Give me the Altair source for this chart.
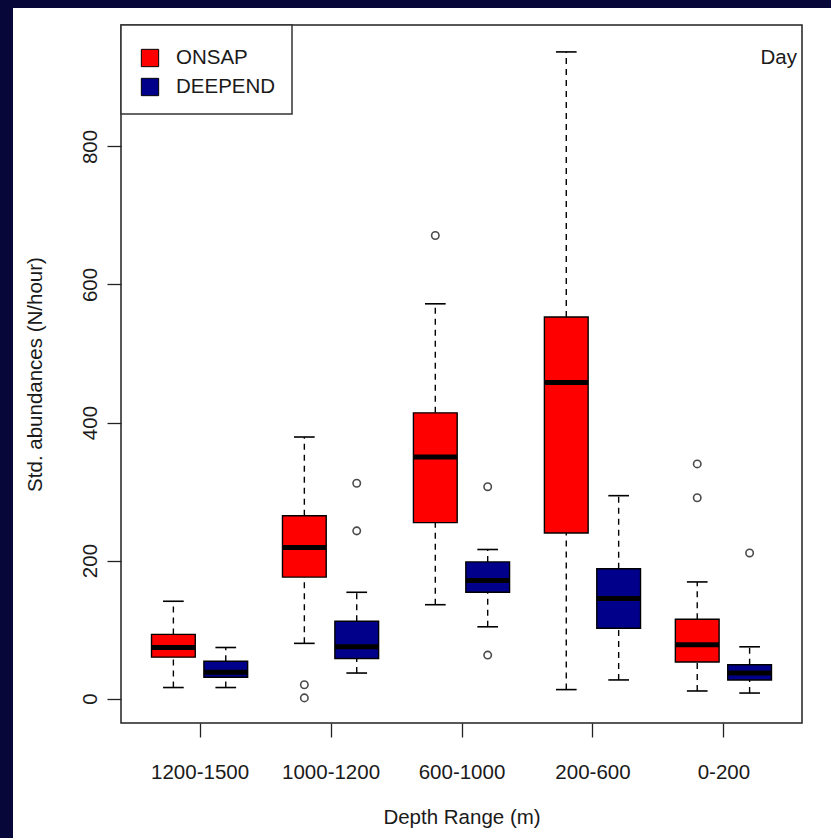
import json
import altair as alt
import pandas as pd

# ---------------- data ----------------
groups = ["1200-1500", "1000-1200", "600-1000", "200-600", "0-200"]
series = ["ONSAP", "DEEPEND"]
colors = ["#FF0000", "#00008B"]

onsap_lower = [16, 80, 136, 13, 11]
onsap_q1 = [60, 176, 255, 240, 53]
onsap_median = [74, 219, 350, 458, 78]
onsap_q3 = [93, 265, 414, 553, 115]
onsap_upper = [141, 379, 572, 937, 169]
onsap_outliers = [[], [20, 1], [671], [], [340, 291]]

deepend_lower = [16, 37, 104, 27, 8]
deepend_q1 = [31, 58, 154, 102, 27]
deepend_median = [38, 75, 171, 145, 37]
deepend_q3 = [54, 112, 198, 188, 49]
deepend_upper = [74, 154, 216, 294, 75]
deepend_outliers = [[], [312, 243], [307, 63], [], [211]]

y_ticks = [0, 200, 400, 600, 800]

# ---------------- tables ----------------
stat_rows, out_rows = [], []
for gi, g in enumerate(groups):
    for s, lo, q1, me, q3, up, outs in [
        ("ONSAP", onsap_lower, onsap_q1, onsap_median, onsap_q3, onsap_upper, onsap_outliers),
        ("DEEPEND", deepend_lower, deepend_q1, deepend_median, deepend_q3, deepend_upper, deepend_outliers),
    ]:
        stat_rows.append(dict(group=g, gi=gi + 1, series=s, lower=lo[gi], q1=q1[gi],
                              median=me[gi], q3=q3[gi], upper=up[gi]))
        for v in outs[gi]:
            out_rows.append(dict(group=g, gi=gi + 1, series=s, value=v))
stats = pd.DataFrame(stat_rows)
outl = pd.DataFrame(out_rows)

FONT = "Liberation Sans"
FS = 20.5
TXT = "#1a1a1a"
W, H = 681, 698

xs = alt.Scale(domain=[0.4, 5.6], nice=False, zero=False)
ys = alt.Scale(domain=[-35.4, 976], nice=False, zero=False)
cs = alt.Scale(domain=series, range=colors)

x_axis = alt.Axis(values=[1, 2, 3, 4, 5],
                  labelExpr=f"{json.dumps(groups)}[datum.value - 1]",
                  domain=False, grid=False, tickSize=14, tickColor="#222", tickWidth=1.3,
                  labelFont=FONT, labelFontSize=FS, labelColor=TXT,
                  labelBaseline="alphabetic", labelPadding=41,
                  title="Depth Range (m)", titleFont=FONT, titleFontSize=FS,
                  titleFontWeight="normal", titleColor=TXT,
                  titleX=W / 2, titleY=100, titleBaseline="alphabetic", titleAlign="center")
y_axis = alt.Axis(values=y_ticks, domain=False, grid=False, tickSize=14, tickColor="#222",
                  tickWidth=1.3, labelFont=FONT, labelFontSize=FS, labelColor=TXT,
                  labelAngle=270, labelAlign="center", labelBaseline="alphabetic",
                  labelPadding=11,
                  title="Std. abundances (N/hour)", titleFont=FONT, titleFontSize=FS,
                  titleFontWeight="normal", titleColor=TXT,
                  titleAngle=270, titleX=-86, titleY=H / 2, titleAlign="center",
                  titleBaseline="middle")


def X(field):
    return alt.X(field, scale=xs, axis=x_axis)


def Y(field):
    return alt.Y(field, scale=ys, axis=y_axis)


calc = dict(pos="datum.gi + (datum.series === 'ONSAP' ? -0.2 : 0.2)")
base = alt.Chart(stats).transform_calculate(**calc).transform_calculate(
    left="datum.pos - 0.167", right="datum.pos + 0.167",
    capl="datum.pos - 0.079", capr="datum.pos + 0.079")

dash = [6, 5]
whisk_up = base.mark_rule(color="black", strokeWidth=1.4, strokeDash=dash).encode(
    x=X("pos:Q"), y=Y("q3:Q"), y2="upper:Q")
whisk_lo = base.mark_rule(color="black", strokeWidth=1.4, strokeDash=dash).encode(
    x=X("pos:Q"), y=Y("lower:Q"), y2="q1:Q")
cap_up = base.mark_rule(color="black", strokeWidth=1.6).encode(
    x=X("capl:Q"), x2="capr:Q", y=Y("upper:Q"))
cap_lo = base.mark_rule(color="black", strokeWidth=1.6).encode(
    x=X("capl:Q"), x2="capr:Q", y=Y("lower:Q"))
boxes = base.mark_rect(stroke="black", strokeWidth=1.4).encode(
    x=X("left:Q"), x2="right:Q", y=Y("q1:Q"), y2="q3:Q",
    color=alt.Color("series:N", scale=cs, legend=None))
medians = base.mark_rule(color="black", strokeWidth=5).encode(
    x=X("left:Q"), x2="right:Q", y=Y("median:Q"))
outliers = alt.Chart(outl).transform_calculate(**calc).mark_point(
    shape="circle", filled=False, color="black", size=55, strokeWidth=1.6).encode(
    x=X("pos:Q"), y=Y("value:Q"))

# ---------------- decorations: slide frame, legend, "Day" ----------------
one = pd.DataFrame({"k": [0]})
NAVY = "#07073a"
strip_top = alt.Chart(one).mark_rect(color=NAVY).encode(
    x=alt.value(-121), x2=alt.value(720), y=alt.value(-25), y2=alt.value(-17))
strip_left = alt.Chart(one).mark_rect(color=NAVY).encode(
    x=alt.value(-121), x2=alt.value(-108), y=alt.value(-25), y2=alt.value(820))

leg_box = alt.Chart(one).mark_rect(fill="white", stroke="#333", strokeWidth=1.5).encode(
    x=alt.value(0), x2=alt.value(171), y=alt.value(0), y2=alt.value(89))
leg_layers = []
for s, yy in zip(series, [33, 62]):
    d = pd.DataFrame({"series": [s]})
    leg_layers.append(alt.Chart(d).mark_square(size=300, stroke="black", strokeWidth=1, opacity=1).encode(
        x=alt.value(29), y=alt.value(yy), color=alt.Color("series:N", scale=cs, legend=None)))
    leg_layers.append(alt.Chart(d).mark_text(align="left", baseline="middle", font=FONT,
                                             fontSize=FS, color=TXT).encode(
        x=alt.value(55), y=alt.value(yy), text="series:N"))

day = alt.Chart(pd.DataFrame({"label": ["Day"]})).mark_text(
    align="right", baseline="middle", font=FONT, fontSize=FS, color=TXT).encode(
    x=alt.value(676), y=alt.value(33), text="label:N")

chart = alt.layer(
    strip_top, strip_left, boxes, whisk_up, whisk_lo, cap_up, cap_lo, medians, outliers,
    leg_box, *leg_layers, day,
).properties(
    width=W, height=H,
    autosize=alt.AutoSizeParams(type="none"),
    padding={"left": 121, "top": 25, "right": 29, "bottom": 115},
    background="white",
).configure_view(stroke="#222", strokeWidth=1.5)

chart.save("out.html", embed_options={"renderer": "svg", "actions": False})
